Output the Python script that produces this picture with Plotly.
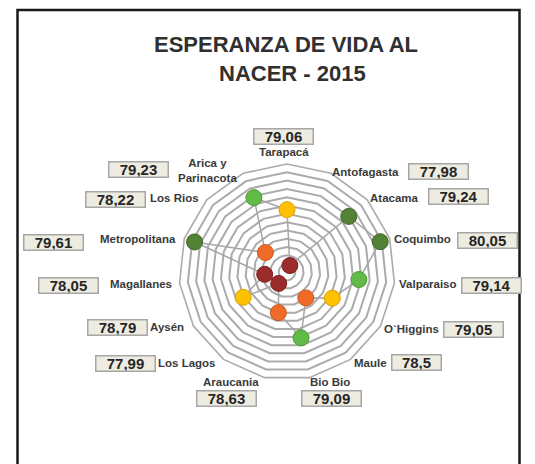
import plotly.graph_objects as go

W, H = 535, 464

# ---- data ----
regions = ["Tarapacá", "Antofagasta", "Atacama", "Coquimbo", "Valparaiso", "O`Higgins",
           "Maule", "Bio Bio", "Araucania", "Los Lagos", "Aysén", "Magallanes",
           "Metropolitana", "Los Rios", "Arica y<br>Parinacota"]
life_expectancy = [79.06, 77.98, 79.24, 80.05, 79.14, 79.05,
                   78.5, 79.09, 78.63, 77.99, 78.79, 78.05,
                   79.61, 78.22, 79.23]
# radial position of each marker (ring units)
radial_score = [7.5, 0.85, 10.0, 11.8, 8.7, 6.3,
                3.85, 8.1, 5.0, 1.7, 6.1, 2.7,
                11.7, 3.5, 9.8]
title_lines = ["ESPERANZA DE VIDA AL", "NACER - 2015"]

# ---- styling ----
def color_for(v):
    if v >= 79.24:
        return "#548235"
    if v >= 79.09:
        return "#62BB46"
    if v >= 78.79:
        return "#FFC000"
    if v >= 78.22:
        return "#F06A28"
    return "#9B2C2C"

def edge_for(c):
    return {"#548235": "#3f6428", "#62BB46": "#4c9a36", "#FFC000": "#d9a300",
            "#F06A28": "#c8551e", "#9B2C2C": "#7a2020"}[c]

colors = [color_for(v) for v in life_expectancy]

theta_closed = regions + [regions[0]]
r_closed = radial_score + [radial_score[0]]

fig = go.Figure()
fig.add_trace(go.Scatterpolar(
    r=r_closed, theta=theta_closed, mode="lines",
    line=dict(color="#A6A6A6", width=1.5), hoverinfo="skip", showlegend=False))
fig.add_trace(go.Scatterpolar(
    r=radial_score, theta=regions, mode="markers",
    marker=dict(size=16, color=colors, line=dict(color=[edge_for(c) for c in colors], width=1)),
    text=[str(v) for v in life_expectancy], showlegend=False))

cx, cy, R = 287, 272, 108
fig.update_layout(
    width=W, height=H, margin=dict(l=0, r=0, t=0, b=0),
    paper_bgcolor="white", plot_bgcolor="white",
    font=dict(family="Liberation Sans", color="#3a3a3a"),
    polar=dict(
        domain=dict(x=[(cx - R) / W, (cx + R) / W], y=[1 - (cy + R) / H, 1 - (cy - R) / H]),
        gridshape="linear", bgcolor="white",
        radialaxis=dict(range=[0, 13], dtick=1, showticklabels=False, ticks="",
                        showline=False, gridcolor="#ABABAB", gridwidth=1.6),
        angularaxis=dict(rotation=90, direction="clockwise", showgrid=False,
                         showline=True, linecolor="#ABABAB", linewidth=1.6, ticks="",
                         showticklabels=False),
    ),
)

# category labels (pixel anchor, x-anchor)
label_pos = [(284, 152, "center"), (330, 172, "left"), (368, 198, "left"), (392, 239, "left"),
             (397, 284, "left"), (382, 329, "left"), (352, 363, "left"), (330, 382, "center"),
             (231, 382, "center"), (218, 363, "right"), (186, 327, "right"), (174, 284, "right"),
             (178, 239, "right"), (201, 198, "right"), (207, 170, "center")]
for name, (px, py, xa) in zip(regions, label_pos):
    fig.add_annotation(x=px / W, y=1 - py / H, xref="paper", yref="paper",
                       text=f"<b>{name}</b>", showarrow=False, xanchor=xa, yanchor="middle",
                       font=dict(size=11.5, color="#3a3a3a", family="Liberation Sans"))

# value boxes (pixel centres)
box_pos = [(283, 136), (438, 171), (458, 197), (488, 240), (491, 285), (473, 329),
           (416, 362), (331, 398), (226, 398), (125, 363), (117, 327), (68, 285),
           (53, 242), (115, 199), (138, 169)]
for v, (px, py) in zip(life_expectancy, box_pos):
    txt = str(v).replace(".", ",")
    fig.add_annotation(
        x=px / W, y=1 - py / H, xref="paper", yref="paper",
        text=f"<b>{txt}</b>", showarrow=False, xanchor="center", yanchor="middle",
        font=dict(size=15, color="#262626", family="Liberation Sans"),
        bgcolor="#EEECE1", bordercolor="#A6A6A6", borderwidth=1.5, borderpad=0,
        width=58 if len(txt) > 4 else 48, height=14)

# title
for line, (px, py) in zip(title_lines, [(286, 44), (292, 73)]):
    fig.add_annotation(x=px / W, y=1 - py / H, xref="paper", yref="paper",
                       text=f"<b>{line}</b>", showarrow=False, xanchor="center", yanchor="middle",
                       font=dict(size=22, color="#303030", family="Liberation Sans"))

# chart frame
fig.add_shape(type="rect", xref="paper", yref="paper",
              x0=17.5 / W, x1=519.5 / W, y0=1 - 475 / H, y1=1 - 10 / H,
              line=dict(color="#1a1a1a", width=2.5), fillcolor="rgba(0,0,0,0)")

fig.write_html("out.html", config={"displayModeBar": False},
               post_script="document.body.style.margin='0';")
